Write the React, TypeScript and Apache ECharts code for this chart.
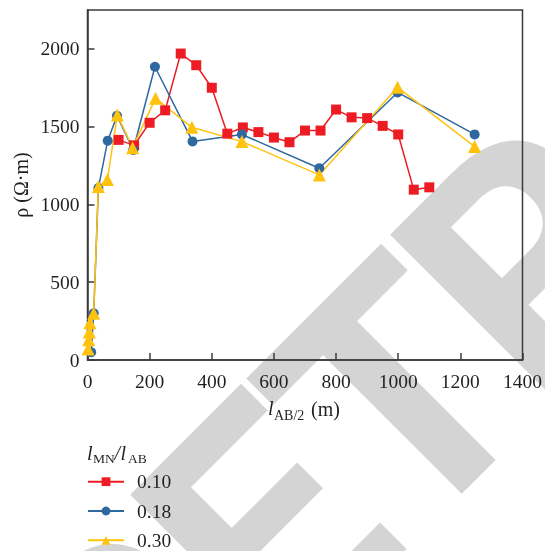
import React, { useEffect, useRef } from "react";
import * as echarts from "echarts";

// ---- data ----
const xTicks = [0, 200, 400, 600, 800, 1000, 1200, 1400];
const yTicks = [0, 500, 1000, 1500, 2000];
const seriesNames = ["0.10", "0.18", "0.30"];

const redX = [100, 150, 200, 250, 300, 350, 400, 450, 500, 550, 600, 650, 700, 750, 800, 850, 900, 950, 1000, 1050, 1100];
const redY = [1415, 1380, 1525, 1605, 1970, 1895, 1750, 1455, 1495, 1465, 1430, 1400, 1475, 1475, 1610, 1560, 1555, 1505, 1450, 1095, 1110];

const blueX = [12, 20, 35, 65, 95, 147, 217, 338, 497, 746, 998, 1246];
const blueY = [50, 300, 1105, 1410, 1570, 1350, 1885, 1405, 1450, 1233, 1720, 1450];

const yellowX = [2, 4, 6, 8, 20, 35, 64, 96, 145, 219, 336, 497, 746, 998, 1246];
const yellowY = [70, 130, 180, 240, 300, 1115, 1160, 1575, 1365, 1682, 1496, 1404, 1190, 1753, 1372];

// watermark letters and their offsets along the diagonal (x - y of each glyph centre)
const watermarkLetters = ["R", "E", "T", "R"];
const watermarkOffsets = [-532, -263, 2.5, 275];

const RED = "#ed1c24";
const BLUE = "#2e689e";
const YELLOW = "#ffc20e";
const INK = "#231f20";
const AXIS = "#3a3a3a";
const SERIF = "Liberation Serif";

const pairs = (xs: number[], ys: number[]) => xs.map((x, i) => [x, ys[i]]);

function txt(text: string, x: number, baseline: number, size: number, opts: any = {}) {
  const y = baseline - 0.3375 * size;
  return {
    type: "text",
    x,
    y,
    z: 10,
    silent: true,
    rotation: opts.rotation || 0,
    style: {
      text,
      fontFamily: SERIF,
      fontSize: size,
      fontStyle: opts.italic ? "italic" : "normal",
      fill: INK,
      textAlign: opts.align || "left",
      align: opts.align || "left",
      textVerticalAlign: "middle",
      verticalAlign: "middle",
    },
  };
}

function watermark() {
  const s = 796.5; // x + y of the text's central line
  return watermarkLetters.map((ch, i) => {
    const d = watermarkOffsets[i];
    return {
      type: "text",
      x: (s + d) / 2,
      y: (s - d) / 2,
      rotation: Math.PI / 4,
      z: -10,
      silent: true,
      style: {
        text: ch,
        fontFamily: "Roboto",
        fontWeight: "bold",
        fontSize: 329,
        fill: "#d4d4d4",
        textAlign: "center",
        align: "center",
        textVerticalAlign: "middle",
        verticalAlign: "middle",
      },
    };
  });
}

export default function App() {
  const ref = useRef<HTMLDivElement>(null);
  useEffect(() => {
    if (!ref.current) return;
    const chart = echarts.init(ref.current, null, { renderer: "svg" });
    const axisLine = { show: true, onZero: false, lineStyle: { color: AXIS, width: 1.5 } };
    const axisTick = { show: true, inside: true, length: 7, lineStyle: { color: AXIS, width: 1.5 } };
    const axisLabelBase = {
      fontFamily: SERIF,
      fontSize: 19.5,
      color: INK,
      formatter: (v: number) => String(v),
    };
    const option: any = {
      animation: false,
      grid: {
        left: 87.5,
        right: 21.5,
        top: 10,
        bottom: 191,
        show: true,
        borderColor: AXIS,
        borderWidth: 1.5,
        backgroundColor: "transparent",
      },
      xAxis: {
        type: "value",
        min: xTicks[0],
        max: xTicks[xTicks.length - 1],
        interval: 200,
        axisLine,
        axisTick,
        splitLine: { show: false },
        axisLabel: { ...axisLabelBase, margin: 11 },
      },
      yAxis: {
        type: "value",
        min: yTicks[0],
        max: 2250,
        interval: 500,
        axisLine,
        axisTick,
        splitLine: { show: false },
        axisLabel: { ...axisLabelBase, margin: 8, showMaxLabel: false },
      },
      legend: {
        orient: "vertical",
        left: 87,
        top: 471.7,
        padding: 0,
        itemWidth: 36,
        itemHeight: 11,
        itemGap: 9.3,
        data: seriesNames,
        textStyle: { fontFamily: SERIF, fontSize: 19.5, color: INK, lineHeight: 20, padding: [0, 0, 0, 8] },
      },
      series: [
        {
          name: seriesNames[0],
          type: "line",
          data: pairs(redX, redY),
          symbol: "rect",
          symbolSize: 10,
          color: RED,
          lineStyle: { width: 1.5, color: RED },
          itemStyle: { color: RED },
        },
        {
          name: seriesNames[1],
          type: "line",
          data: pairs(blueX, blueY),
          symbol: "circle",
          symbolSize: 10,
          color: BLUE,
          lineStyle: { width: 1.5, color: BLUE },
          itemStyle: { color: BLUE },
        },
        {
          name: seriesNames[2],
          type: "line",
          data: pairs(yellowX, yellowY),
          symbol: "triangle",
          symbolSize: 13,
          color: YELLOW,
          lineStyle: { width: 1.5, color: YELLOW },
          itemStyle: { color: YELLOW },
        },
      ],
      graphic: [
        ...watermark(),
        // y axis name
        {
          type: "text",
          x: 21,
          y: 185,
          rotation: Math.PI / 2,
          z: 10,
          silent: true,
          style: {
            text: "ρ (Ω·m)",
            fontFamily: SERIF,
            fontSize: 20,
            fill: INK,
            textAlign: "center",
            align: "center",
            textVerticalAlign: "middle",
            verticalAlign: "middle",
          },
        },
        // x axis name: l_AB/2 (m)
        txt("l", 268, 415, 20, { italic: true }),
        txt("AB/2", 274, 420.7, 14),
        txt("(m)", 311, 416, 20),
        // legend title: l_MN / l_AB
        txt("l", 87, 460, 20, { italic: true }),
        txt("MN", 93, 463, 13.5),
        txt("/", 114.5, 460, 20, { italic: true }),
        txt("l", 120.5, 460, 20, { italic: true }),
        txt("AB", 128, 463, 13.5),
      ],
    };
    chart.setOption(option);
    return () => chart.dispose();
  }, []);
  return <div ref={ref} style={{ position: "fixed", left: 0, top: 0, width: 545, height: 551 }} />;
}
